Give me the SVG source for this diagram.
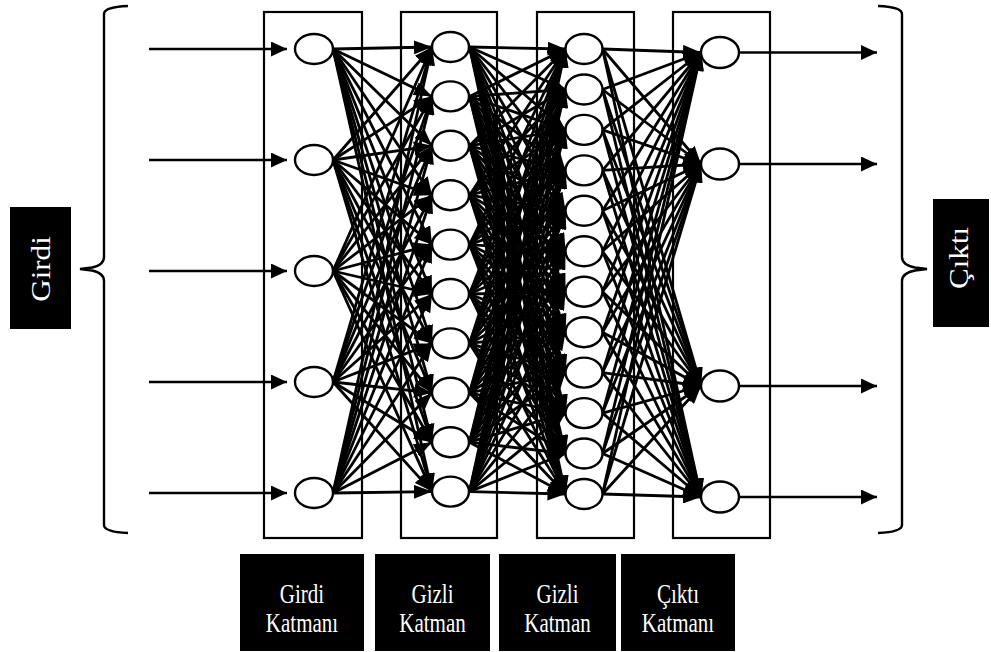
<svg xmlns="http://www.w3.org/2000/svg" width="991" height="652" viewBox="0 0 991 652">
<style>
  .layer { fill: none; stroke: #000; stroke-width: 2.2; }
  .node ellipse { fill: #fff; stroke: #000; stroke-width: 2.4; }
  .brace { fill: none; stroke: #000; stroke-width: 2.4; }
  .lbl rect { fill: #000; }
  .lbl text { fill: #fff; font-family: "Liberation Serif", "Times New Roman", serif; }
  .io { stroke: #000; stroke-width: 2.4; marker-end: url(#ahBig); }
</style>
<defs>
  <marker id="ah" markerUnits="userSpaceOnUse" viewBox="0 0 18 14" markerWidth="18" markerHeight="14" refX="18" refY="7" orient="auto">
    <path d="M0,0 L18,7 L0,14 z" fill="#000"/>
  </marker>
  <marker id="ahBig" markerUnits="userSpaceOnUse" viewBox="0 0 16 15" markerWidth="16" markerHeight="15" refX="16" refY="7.5" orient="auto">
    <path d="M0,0 L16,7.5 L0,15 z" fill="#000"/>
  </marker>
</defs>
<rect width="991" height="652" fill="#fff"/>

<!-- layer frames -->
<g id="frames">
  <rect class="layer" x="264" y="12" width="98" height="526"/>
  <rect class="layer" x="401" y="12" width="96" height="526"/>
  <rect class="layer" x="537" y="12" width="97" height="526"/>
  <rect class="layer" x="673" y="12" width="97" height="526"/>
</g>

<!-- braces -->
<path id="brace-left" class="brace" d="M128,6 Q104,7 104,14 L104,257 Q104,265 92,267.5 L80,269 L92,270.5 Q104,273 104,281 L104,525 Q104,532 128,533"/>
<path id="brace-right" class="brace" d="M878,6 Q902,7 902,14 L902,257 Q902,265 915,267.5 L927,269 L915,270.5 Q902,273 902,281 L902,525 Q902,532 878,533"/>

<g id="connectors" stroke="#000" stroke-width="2.8" marker-end="url(#ah)">
  <!-- inputs into the input layer -->
  <line class="io" x1="149" y1="49" x2="287" y2="49"/>
  <line class="io" x1="149" y1="160" x2="287" y2="160"/>
  <line class="io" x1="149" y1="271" x2="287" y2="271"/>
  <line class="io" x1="149" y1="382" x2="287" y2="382"/>
  <line class="io" x1="149" y1="493" x2="287" y2="493"/>
  <!-- outputs -->
  <line class="io" x1="739" y1="52.5" x2="877" y2="52.5"/>
  <line class="io" x1="739" y1="164" x2="877" y2="164"/>
  <line class="io" x1="739" y1="386" x2="877" y2="386"/>
  <line class="io" x1="739" y1="497" x2="877" y2="497"/>

  <!-- input layer -> hidden layer 1 -->
  <line x1="333" y1="49" x2="432" y2="47"/><line x1="333" y1="49" x2="432" y2="96.4"/><line x1="333" y1="49" x2="432" y2="145.8"/><line x1="333" y1="49" x2="432" y2="195.2"/><line x1="333" y1="49" x2="432" y2="244.6"/><line x1="333" y1="49" x2="432" y2="294"/><line x1="333" y1="49" x2="432" y2="343.4"/><line x1="333" y1="49" x2="432" y2="392.8"/><line x1="333" y1="49" x2="432" y2="442.2"/><line x1="333" y1="49" x2="432" y2="491.6"/>
  <line x1="333" y1="160" x2="432" y2="47"/><line x1="333" y1="160" x2="432" y2="96.4"/><line x1="333" y1="160" x2="432" y2="145.8"/><line x1="333" y1="160" x2="432" y2="195.2"/><line x1="333" y1="160" x2="432" y2="244.6"/><line x1="333" y1="160" x2="432" y2="294"/><line x1="333" y1="160" x2="432" y2="343.4"/><line x1="333" y1="160" x2="432" y2="392.8"/><line x1="333" y1="160" x2="432" y2="442.2"/><line x1="333" y1="160" x2="432" y2="491.6"/>
  <line x1="333" y1="271" x2="432" y2="47"/><line x1="333" y1="271" x2="432" y2="96.4"/><line x1="333" y1="271" x2="432" y2="145.8"/><line x1="333" y1="271" x2="432" y2="195.2"/><line x1="333" y1="271" x2="432" y2="244.6"/><line x1="333" y1="271" x2="432" y2="294"/><line x1="333" y1="271" x2="432" y2="343.4"/><line x1="333" y1="271" x2="432" y2="392.8"/><line x1="333" y1="271" x2="432" y2="442.2"/><line x1="333" y1="271" x2="432" y2="491.6"/>
  <line x1="333" y1="382" x2="432" y2="47"/><line x1="333" y1="382" x2="432" y2="96.4"/><line x1="333" y1="382" x2="432" y2="145.8"/><line x1="333" y1="382" x2="432" y2="195.2"/><line x1="333" y1="382" x2="432" y2="244.6"/><line x1="333" y1="382" x2="432" y2="294"/><line x1="333" y1="382" x2="432" y2="343.4"/><line x1="333" y1="382" x2="432" y2="392.8"/><line x1="333" y1="382" x2="432" y2="442.2"/><line x1="333" y1="382" x2="432" y2="491.6"/>
  <line x1="333" y1="493" x2="432" y2="47"/><line x1="333" y1="493" x2="432" y2="96.4"/><line x1="333" y1="493" x2="432" y2="145.8"/><line x1="333" y1="493" x2="432" y2="195.2"/><line x1="333" y1="493" x2="432" y2="244.6"/><line x1="333" y1="493" x2="432" y2="294"/><line x1="333" y1="493" x2="432" y2="343.4"/><line x1="333" y1="493" x2="432" y2="392.8"/><line x1="333" y1="493" x2="432" y2="442.2"/><line x1="333" y1="493" x2="432" y2="491.6"/>

  <!-- hidden layer 1 -> hidden layer 2 -->
  <line x1="469.5" y1="47" x2="565.5" y2="49"/><line x1="469.5" y1="47" x2="565.5" y2="89.5"/><line x1="469.5" y1="47" x2="565.5" y2="129.9"/><line x1="469.5" y1="47" x2="565.5" y2="170.4"/><line x1="469.5" y1="47" x2="565.5" y2="210.8"/><line x1="469.5" y1="47" x2="565.5" y2="251.3"/><line x1="469.5" y1="47" x2="565.5" y2="291.7"/><line x1="469.5" y1="47" x2="565.5" y2="332.2"/><line x1="469.5" y1="47" x2="565.5" y2="372.6"/><line x1="469.5" y1="47" x2="565.5" y2="413.1"/><line x1="469.5" y1="47" x2="565.5" y2="453.5"/><line x1="469.5" y1="47" x2="565.5" y2="494"/>
  <line x1="469.5" y1="96.4" x2="565.5" y2="49"/><line x1="469.5" y1="96.4" x2="565.5" y2="89.5"/><line x1="469.5" y1="96.4" x2="565.5" y2="129.9"/><line x1="469.5" y1="96.4" x2="565.5" y2="170.4"/><line x1="469.5" y1="96.4" x2="565.5" y2="210.8"/><line x1="469.5" y1="96.4" x2="565.5" y2="251.3"/><line x1="469.5" y1="96.4" x2="565.5" y2="291.7"/><line x1="469.5" y1="96.4" x2="565.5" y2="332.2"/><line x1="469.5" y1="96.4" x2="565.5" y2="372.6"/><line x1="469.5" y1="96.4" x2="565.5" y2="413.1"/><line x1="469.5" y1="96.4" x2="565.5" y2="453.5"/><line x1="469.5" y1="96.4" x2="565.5" y2="494"/>
  <line x1="469.5" y1="145.8" x2="565.5" y2="49"/><line x1="469.5" y1="145.8" x2="565.5" y2="89.5"/><line x1="469.5" y1="145.8" x2="565.5" y2="129.9"/><line x1="469.5" y1="145.8" x2="565.5" y2="170.4"/><line x1="469.5" y1="145.8" x2="565.5" y2="210.8"/><line x1="469.5" y1="145.8" x2="565.5" y2="251.3"/><line x1="469.5" y1="145.8" x2="565.5" y2="291.7"/><line x1="469.5" y1="145.8" x2="565.5" y2="332.2"/><line x1="469.5" y1="145.8" x2="565.5" y2="372.6"/><line x1="469.5" y1="145.8" x2="565.5" y2="413.1"/><line x1="469.5" y1="145.8" x2="565.5" y2="453.5"/><line x1="469.5" y1="145.8" x2="565.5" y2="494"/>
  <line x1="469.5" y1="195.2" x2="565.5" y2="49"/><line x1="469.5" y1="195.2" x2="565.5" y2="89.5"/><line x1="469.5" y1="195.2" x2="565.5" y2="129.9"/><line x1="469.5" y1="195.2" x2="565.5" y2="170.4"/><line x1="469.5" y1="195.2" x2="565.5" y2="210.8"/><line x1="469.5" y1="195.2" x2="565.5" y2="251.3"/><line x1="469.5" y1="195.2" x2="565.5" y2="291.7"/><line x1="469.5" y1="195.2" x2="565.5" y2="332.2"/><line x1="469.5" y1="195.2" x2="565.5" y2="372.6"/><line x1="469.5" y1="195.2" x2="565.5" y2="413.1"/><line x1="469.5" y1="195.2" x2="565.5" y2="453.5"/><line x1="469.5" y1="195.2" x2="565.5" y2="494"/>
  <line x1="469.5" y1="244.6" x2="565.5" y2="49"/><line x1="469.5" y1="244.6" x2="565.5" y2="89.5"/><line x1="469.5" y1="244.6" x2="565.5" y2="129.9"/><line x1="469.5" y1="244.6" x2="565.5" y2="170.4"/><line x1="469.5" y1="244.6" x2="565.5" y2="210.8"/><line x1="469.5" y1="244.6" x2="565.5" y2="251.3"/><line x1="469.5" y1="244.6" x2="565.5" y2="291.7"/><line x1="469.5" y1="244.6" x2="565.5" y2="332.2"/><line x1="469.5" y1="244.6" x2="565.5" y2="372.6"/><line x1="469.5" y1="244.6" x2="565.5" y2="413.1"/><line x1="469.5" y1="244.6" x2="565.5" y2="453.5"/><line x1="469.5" y1="244.6" x2="565.5" y2="494"/>
  <line x1="469.5" y1="294" x2="565.5" y2="49"/><line x1="469.5" y1="294" x2="565.5" y2="89.5"/><line x1="469.5" y1="294" x2="565.5" y2="129.9"/><line x1="469.5" y1="294" x2="565.5" y2="170.4"/><line x1="469.5" y1="294" x2="565.5" y2="210.8"/><line x1="469.5" y1="294" x2="565.5" y2="251.3"/><line x1="469.5" y1="294" x2="565.5" y2="291.7"/><line x1="469.5" y1="294" x2="565.5" y2="332.2"/><line x1="469.5" y1="294" x2="565.5" y2="372.6"/><line x1="469.5" y1="294" x2="565.5" y2="413.1"/><line x1="469.5" y1="294" x2="565.5" y2="453.5"/><line x1="469.5" y1="294" x2="565.5" y2="494"/>
  <line x1="469.5" y1="343.4" x2="565.5" y2="49"/><line x1="469.5" y1="343.4" x2="565.5" y2="89.5"/><line x1="469.5" y1="343.4" x2="565.5" y2="129.9"/><line x1="469.5" y1="343.4" x2="565.5" y2="170.4"/><line x1="469.5" y1="343.4" x2="565.5" y2="210.8"/><line x1="469.5" y1="343.4" x2="565.5" y2="251.3"/><line x1="469.5" y1="343.4" x2="565.5" y2="291.7"/><line x1="469.5" y1="343.4" x2="565.5" y2="332.2"/><line x1="469.5" y1="343.4" x2="565.5" y2="372.6"/><line x1="469.5" y1="343.4" x2="565.5" y2="413.1"/><line x1="469.5" y1="343.4" x2="565.5" y2="453.5"/><line x1="469.5" y1="343.4" x2="565.5" y2="494"/>
  <line x1="469.5" y1="392.8" x2="565.5" y2="49"/><line x1="469.5" y1="392.8" x2="565.5" y2="89.5"/><line x1="469.5" y1="392.8" x2="565.5" y2="129.9"/><line x1="469.5" y1="392.8" x2="565.5" y2="170.4"/><line x1="469.5" y1="392.8" x2="565.5" y2="210.8"/><line x1="469.5" y1="392.8" x2="565.5" y2="251.3"/><line x1="469.5" y1="392.8" x2="565.5" y2="291.7"/><line x1="469.5" y1="392.8" x2="565.5" y2="332.2"/><line x1="469.5" y1="392.8" x2="565.5" y2="372.6"/><line x1="469.5" y1="392.8" x2="565.5" y2="413.1"/><line x1="469.5" y1="392.8" x2="565.5" y2="453.5"/><line x1="469.5" y1="392.8" x2="565.5" y2="494"/>
  <line x1="469.5" y1="442.2" x2="565.5" y2="49"/><line x1="469.5" y1="442.2" x2="565.5" y2="89.5"/><line x1="469.5" y1="442.2" x2="565.5" y2="129.9"/><line x1="469.5" y1="442.2" x2="565.5" y2="170.4"/><line x1="469.5" y1="442.2" x2="565.5" y2="210.8"/><line x1="469.5" y1="442.2" x2="565.5" y2="251.3"/><line x1="469.5" y1="442.2" x2="565.5" y2="291.7"/><line x1="469.5" y1="442.2" x2="565.5" y2="332.2"/><line x1="469.5" y1="442.2" x2="565.5" y2="372.6"/><line x1="469.5" y1="442.2" x2="565.5" y2="413.1"/><line x1="469.5" y1="442.2" x2="565.5" y2="453.5"/><line x1="469.5" y1="442.2" x2="565.5" y2="494"/>
  <line x1="469.5" y1="491.6" x2="565.5" y2="49"/><line x1="469.5" y1="491.6" x2="565.5" y2="89.5"/><line x1="469.5" y1="491.6" x2="565.5" y2="129.9"/><line x1="469.5" y1="491.6" x2="565.5" y2="170.4"/><line x1="469.5" y1="491.6" x2="565.5" y2="210.8"/><line x1="469.5" y1="491.6" x2="565.5" y2="251.3"/><line x1="469.5" y1="491.6" x2="565.5" y2="291.7"/><line x1="469.5" y1="491.6" x2="565.5" y2="332.2"/><line x1="469.5" y1="491.6" x2="565.5" y2="372.6"/><line x1="469.5" y1="491.6" x2="565.5" y2="413.1"/><line x1="469.5" y1="491.6" x2="565.5" y2="453.5"/><line x1="469.5" y1="491.6" x2="565.5" y2="494"/>

  <!-- hidden layer 2 -> output layer -->
  <line x1="602.5" y1="49" x2="701" y2="52.5"/><line x1="602.5" y1="49" x2="701" y2="164"/><line x1="602.5" y1="49" x2="701" y2="386"/><line x1="602.5" y1="49" x2="701" y2="497"/>
  <line x1="602.5" y1="89.5" x2="701" y2="52.5"/><line x1="602.5" y1="89.5" x2="701" y2="164"/><line x1="602.5" y1="89.5" x2="701" y2="386"/><line x1="602.5" y1="89.5" x2="701" y2="497"/>
  <line x1="602.5" y1="129.9" x2="701" y2="52.5"/><line x1="602.5" y1="129.9" x2="701" y2="164"/><line x1="602.5" y1="129.9" x2="701" y2="386"/><line x1="602.5" y1="129.9" x2="701" y2="497"/>
  <line x1="602.5" y1="170.4" x2="701" y2="52.5"/><line x1="602.5" y1="170.4" x2="701" y2="164"/><line x1="602.5" y1="170.4" x2="701" y2="386"/><line x1="602.5" y1="170.4" x2="701" y2="497"/>
  <line x1="602.5" y1="210.8" x2="701" y2="52.5"/><line x1="602.5" y1="210.8" x2="701" y2="164"/><line x1="602.5" y1="210.8" x2="701" y2="386"/><line x1="602.5" y1="210.8" x2="701" y2="497"/>
  <line x1="602.5" y1="251.3" x2="701" y2="52.5"/><line x1="602.5" y1="251.3" x2="701" y2="164"/><line x1="602.5" y1="251.3" x2="701" y2="386"/><line x1="602.5" y1="251.3" x2="701" y2="497"/>
  <line x1="602.5" y1="291.7" x2="701" y2="52.5"/><line x1="602.5" y1="291.7" x2="701" y2="164"/><line x1="602.5" y1="291.7" x2="701" y2="386"/><line x1="602.5" y1="291.7" x2="701" y2="497"/>
  <line x1="602.5" y1="332.2" x2="701" y2="52.5"/><line x1="602.5" y1="332.2" x2="701" y2="164"/><line x1="602.5" y1="332.2" x2="701" y2="386"/><line x1="602.5" y1="332.2" x2="701" y2="497"/>
  <line x1="602.5" y1="372.6" x2="701" y2="52.5"/><line x1="602.5" y1="372.6" x2="701" y2="164"/><line x1="602.5" y1="372.6" x2="701" y2="386"/><line x1="602.5" y1="372.6" x2="701" y2="497"/>
  <line x1="602.5" y1="413.1" x2="701" y2="52.5"/><line x1="602.5" y1="413.1" x2="701" y2="164"/><line x1="602.5" y1="413.1" x2="701" y2="386"/><line x1="602.5" y1="413.1" x2="701" y2="497"/>
  <line x1="602.5" y1="453.5" x2="701" y2="52.5"/><line x1="602.5" y1="453.5" x2="701" y2="164"/><line x1="602.5" y1="453.5" x2="701" y2="386"/><line x1="602.5" y1="453.5" x2="701" y2="497"/>
  <line x1="602.5" y1="494" x2="701" y2="52.5"/><line x1="602.5" y1="494" x2="701" y2="164"/><line x1="602.5" y1="494" x2="701" y2="386"/><line x1="602.5" y1="494" x2="701" y2="497"/>
</g>

<!-- input layer -->
<g id="in-1" class="node"><ellipse cx="314" cy="49" rx="19" ry="15"/></g>
<g id="in-2" class="node"><ellipse cx="314" cy="160" rx="19" ry="15"/></g>
<g id="in-3" class="node"><ellipse cx="314" cy="271" rx="19" ry="15"/></g>
<g id="in-4" class="node"><ellipse cx="314" cy="382" rx="19" ry="15"/></g>
<g id="in-5" class="node"><ellipse cx="314" cy="493" rx="19" ry="15"/></g>

<!-- hidden layer 1 -->
<g id="h1-1" class="node"><ellipse cx="450.5" cy="47" rx="18.5" ry="15"/></g>
<g id="h1-2" class="node"><ellipse cx="450.5" cy="96.4" rx="18.5" ry="15"/></g>
<g id="h1-3" class="node"><ellipse cx="450.5" cy="145.8" rx="18.5" ry="15"/></g>
<g id="h1-4" class="node"><ellipse cx="450.5" cy="195.2" rx="18.5" ry="15"/></g>
<g id="h1-5" class="node"><ellipse cx="450.5" cy="244.6" rx="18.5" ry="15"/></g>
<g id="h1-6" class="node"><ellipse cx="450.5" cy="294" rx="18.5" ry="15"/></g>
<g id="h1-7" class="node"><ellipse cx="450.5" cy="343.4" rx="18.5" ry="15"/></g>
<g id="h1-8" class="node"><ellipse cx="450.5" cy="392.8" rx="18.5" ry="15"/></g>
<g id="h1-9" class="node"><ellipse cx="450.5" cy="442.2" rx="18.5" ry="15"/></g>
<g id="h1-10" class="node"><ellipse cx="450.5" cy="491.6" rx="18.5" ry="15"/></g>

<!-- hidden layer 2 -->
<g id="h2-1" class="node"><ellipse cx="584" cy="49" rx="18.5" ry="15"/></g>
<g id="h2-2" class="node"><ellipse cx="584" cy="89.5" rx="18.5" ry="15"/></g>
<g id="h2-3" class="node"><ellipse cx="584" cy="129.9" rx="18.5" ry="15"/></g>
<g id="h2-4" class="node"><ellipse cx="584" cy="170.4" rx="18.5" ry="15"/></g>
<g id="h2-5" class="node"><ellipse cx="584" cy="210.8" rx="18.5" ry="15"/></g>
<g id="h2-6" class="node"><ellipse cx="584" cy="251.3" rx="18.5" ry="15"/></g>
<g id="h2-7" class="node"><ellipse cx="584" cy="291.7" rx="18.5" ry="15"/></g>
<g id="h2-8" class="node"><ellipse cx="584" cy="332.2" rx="18.5" ry="15"/></g>
<g id="h2-9" class="node"><ellipse cx="584" cy="372.6" rx="18.5" ry="15"/></g>
<g id="h2-10" class="node"><ellipse cx="584" cy="413.1" rx="18.5" ry="15"/></g>
<g id="h2-11" class="node"><ellipse cx="584" cy="453.5" rx="18.5" ry="15"/></g>
<g id="h2-12" class="node"><ellipse cx="584" cy="494" rx="18.5" ry="15"/></g>

<!-- output layer -->
<g id="out-1" class="node"><ellipse cx="720" cy="52.5" rx="19" ry="15.5"/></g>
<g id="out-2" class="node"><ellipse cx="720" cy="164" rx="19" ry="15.5"/></g>
<g id="out-3" class="node"><ellipse cx="720" cy="386" rx="19" ry="15.5"/></g>
<g id="out-4" class="node"><ellipse cx="720" cy="497" rx="19" ry="15.5"/></g>

<!-- side labels -->
<g id="label-girdi" class="lbl">
  <rect x="10" y="207" width="61" height="122"/>
  <text transform="translate(50,269) scale(1,1.15) rotate(-90)" font-size="27" text-anchor="middle">Girdi</text>
</g>
<g id="label-cikti" class="lbl">
  <rect x="933" y="199" width="56" height="128"/>
  <text transform="translate(968,258) scale(1,1.15) rotate(-90)" font-size="27" text-anchor="middle">Çıktı</text>
</g>

<!-- layer captions -->
<g id="cap-input" class="lbl">
  <rect x="240" y="554" width="124" height="97"/>
  <text transform="translate(302,603) scale(1,1.25)" font-size="21" text-anchor="middle">Girdi</text>
  <text transform="translate(302,632) scale(1,1.25)" font-size="21" text-anchor="middle">Katmanı</text>
</g>
<g id="cap-hidden1" class="lbl">
  <rect x="375" y="554" width="115" height="97"/>
  <text transform="translate(432.5,603) scale(1,1.25)" font-size="21" text-anchor="middle">Gizli</text>
  <text transform="translate(432.5,632) scale(1,1.25)" font-size="21" text-anchor="middle">Katman</text>
</g>
<g id="cap-hidden2" class="lbl">
  <rect x="499" y="554" width="117" height="97"/>
  <text transform="translate(557.5,603) scale(1,1.25)" font-size="21" text-anchor="middle">Gizli</text>
  <text transform="translate(557.5,632) scale(1,1.25)" font-size="21" text-anchor="middle">Katman</text>
</g>
<g id="cap-output" class="lbl">
  <rect x="621" y="554" width="114" height="97"/>
  <text transform="translate(678,603) scale(1,1.25)" font-size="21" text-anchor="middle">Çıktı</text>
  <text transform="translate(678,632) scale(1,1.25)" font-size="21" text-anchor="middle">Katmanı</text>
</g>
</svg>
